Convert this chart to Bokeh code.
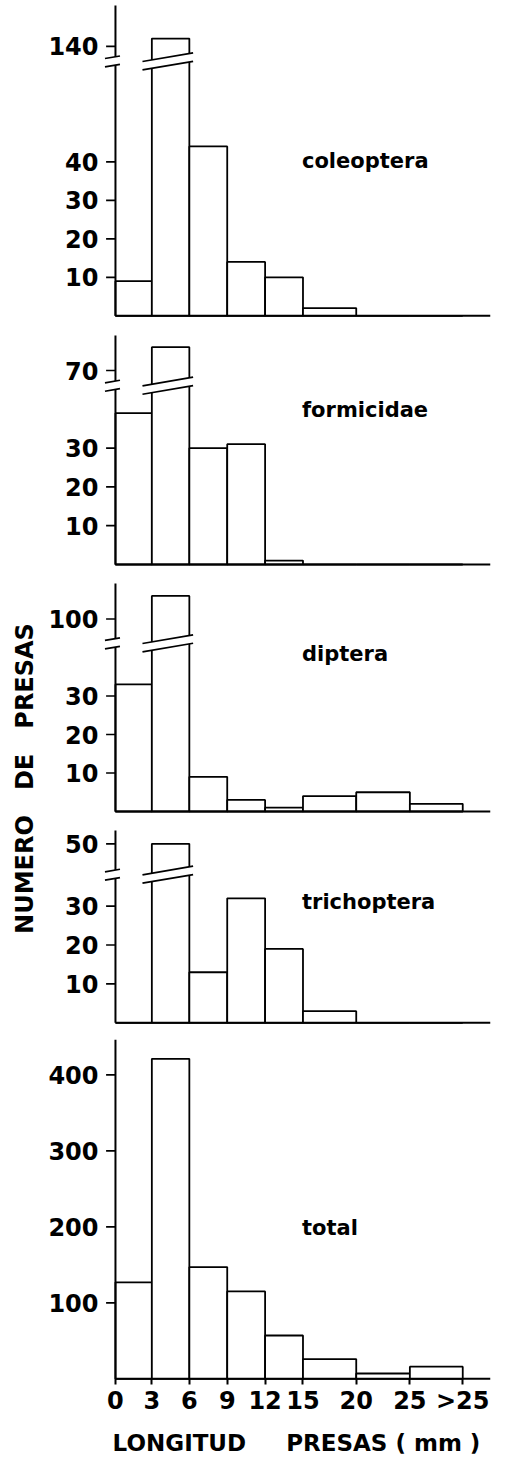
import math
from bokeh.plotting import figure
from bokeh.layouts import column, row
from bokeh.models import FixedTicker
from bokeh.core.properties import value
from bokeh.embed import file_html
from bokeh.resources import INLINE

# ---------------- data ----------------
class_labels = ["0", "3", "6", "9", "12", "15", "20", "25", ">25"]  # class limits (mm)
coleoptera = [9, 142, 44, 14, 10, 2, 0, 0]
formicidae = [39, 76, 30, 31, 1, 0, 0, 0]
diptera = [33, 106, 9, 3, 1, 4, 5, 2]
trichoptera = [0, 50, 13, 32, 19, 3, 0, 0]
total = [127, 421, 147, 115, 57, 26, 7, 16]

coleoptera_ticks = [10, 20, 30, 40]
coleoptera_upper_tick = 140
formicidae_ticks = [10, 20, 30]
formicidae_upper_tick = 70
diptera_ticks = [10, 20, 30]
diptera_upper_tick = 100
trichoptera_ticks = [10, 20, 30]
trichoptera_upper_tick = 50
total_ticks = [100, 200, 300, 400]

y_title = "NUMERO \u00a0 DE \u00a0 PRESAS"
x_title = "LONGITUD \u00a0 \u00a0 PRESAS ( mm )"

# ---------------- layout / style ----------------
FONT = "DejaVu Sans"
PX = 37.6          # page pixels per x unit
AXIS_X = 114       # page x of the y axis line
LABEL_W = 45
PANEL_W = 462
FRAME_L = 101
FRAME_R = 490
# drawn position of every class limit (classes 15-20 and wider are drawn wider)
edge_pos = [0, 0.97, 1.97, 2.98, 3.99, 5.0, 6.42, 7.85, 9.26]
x_start = (FRAME_L - AXIS_X) / PX
x_end = (FRAME_R - AXIS_X) / PX
NAME_X = (301 - AXIS_X) / PX

panels = [
    dict(name="coleoptera", counts=coleoptera, ticks=coleoptera_ticks, upper=coleoptera_upper_tick,
         offset=70, brk=66.2, top=0, frame_top=2, base=315.3, frame_bot=317, bot=322,
         scale=3.85, axis_top=5, name_base=160),
    dict(name="formicidae", counts=formicidae, ticks=formicidae_ticks, upper=formicidae_upper_tick,
         offset=20, brk=46.2, top=322, frame_top=330, base=564, frame_bot=566, bot=570,
         scale=3.88, axis_top=335, name_base=409),
    dict(name="diptera", counts=diptera, ticks=diptera_ticks, upper=diptera_upper_tick,
         offset=50, brk=43.8, top=570, frame_top=578, base=811, frame_bot=813, bot=817,
         scale=3.85, axis_top=583, name_base=653.5),
    dict(name="trichoptera", counts=trichoptera, ticks=trichoptera_ticks, upper=trichoptera_upper_tick,
         offset=4, brk=38.2, top=817, frame_top=825, base=1022.3, frame_bot=1024, bot=1028,
         scale=3.89, axis_top=830, name_base=901.6),
    dict(name="total", counts=total, ticks=total_ticks, upper=None,
         offset=None, brk=None, top=1028, frame_top=1034, base=1378.3, frame_bot=1380, bot=1458,
         scale=0.76, axis_top=1039.3, name_base=1227),
]


def build(cfg, bottom=False):
    s = cfg["scale"]
    base = cfg["base"]
    y0 = -(cfg["frame_bot"] - base) / s
    y1 = (base - cfg["frame_top"]) / s
    p = figure(width=PANEL_W, height=int(cfg["bot"] - cfg["top"]),
               x_range=(x_start, x_end), y_range=(y0, y1),
               output_backend="svg", toolbar_location=None,
               min_border_left=int(FRAME_L - LABEL_W),
               min_border_right=int(LABEL_W + PANEL_W - FRAME_R),
               min_border_top=int(cfg["frame_top"] - cfg["top"]),
               min_border_bottom=int(cfg["bot"] - cfg["frame_bot"]))
    p.outline_line_color = None
    p.xgrid.visible = False
    p.ygrid.visible = False
    p.background_fill_color = "white"
    p.border_fill_color = "white"

    off = cfg["offset"]
    brk = cfg["brk"]

    def disp(v):
        if off is None or v <= brk:
            return v
        return v - off

    tops = [disp(v) for v in cfg["counts"]]
    p.quad(left=edge_pos[:-1], right=edge_pos[1:], bottom=0, top=tops,
           fill_color="white", line_color="black", line_width=1.8)

    axis_top = (base - cfg["axis_top"]) / s
    lw = 2
    if off is not None:
        h = 4.2 / s
        k = 0.17 * PX / s
        # y axis line with a gap
        p.segment(x0=[0, 0], y0=[0, brk + h], x1=[0, 0], y1=[brk - h, axis_top],
                  line_color="black", line_width=lw)
        ax0, ax1 = -0.28, 0.12
        p.segment(x0=[ax0, ax0], y0=[brk - h + k * ax0, brk + h + k * ax0],
                  x1=[ax1, ax1], y1=[brk - h + k * ax1, brk + h + k * ax1],
                  line_color="black", line_width=1.7)
        # broken bar
        i = max(range(len(cfg["counts"])), key=lambda j: cfg["counts"][j])
        e0, e1 = edge_pos[i], edge_pos[i + 1]
        xc = (e0 + e1) / 2
        a, b = e0 - 0.08, e1 + 0.08
        p.patch(x=[a, b, b, a],
                y=[brk - h + k * (a - xc), brk - h + k * (b - xc),
                   brk + h + k * (b - xc), brk + h + k * (a - xc)],
                fill_color="white", line_color=None)
        bx0, bx1 = e0 - 0.25, e1 + 0.1
        p.segment(x0=[bx0, bx0], y0=[brk - h + k * (bx0 - xc), brk + h + k * (bx0 - xc)],
                  x1=[bx1, bx1], y1=[brk - h + k * (bx1 - xc), brk + h + k * (bx1 - xc)],
                  line_color="black", line_width=1.7)
        tick_pos = list(cfg["ticks"]) + [cfg["upper"] - off]
        overrides = {cfg["upper"] - off: str(cfg["upper"])}
    else:
        p.segment(x0=[0], y0=[0], x1=[0], y1=[axis_top], line_color="black", line_width=lw)
        tick_pos = list(cfg["ticks"])
        overrides = {}

    # baseline
    p.segment(x0=[0], y0=[0], x1=[x_end], y1=[0], line_color="black", line_width=lw)
    # y ticks
    p.segment(x0=[-0.25] * len(tick_pos), y0=tick_pos, x1=[0] * len(tick_pos), y1=tick_pos,
              line_color="black", line_width=1.7)

    yax = p.yaxis[0]
    yax.ticker = FixedTicker(ticks=tick_pos, minor_ticks=[])
    yax.major_label_overrides = overrides
    yax.axis_line_color = None
    yax.major_tick_line_color = None
    yax.minor_tick_line_color = None
    yax.major_tick_out = 0
    yax.major_tick_in = 0
    yax.major_label_standoff = 4
    yax.major_label_text_font = FONT
    yax.major_label_text_font_style = "bold"
    yax.major_label_text_font_size = "24px"
    yax.major_label_text_color = "black"

    p.text(x=[NAME_X], y=[(base - cfg["name_base"]) / s], text=[cfg["name"]],
           text_font=value(FONT), text_font_style="bold", text_font_size="21px",
           text_baseline="alphabetic", text_align="left", text_color="black")

    xax = p.xaxis[0]
    if bottom:
        xax.ticker = FixedTicker(ticks=edge_pos, minor_ticks=[])
        xax.major_label_overrides = {edge_pos[j]: class_labels[j] for j in range(len(edge_pos))}
        xax.axis_line_color = None
        xax.major_tick_line_color = "black"
        xax.major_tick_line_width = 2
        xax.minor_tick_line_color = None
        xax.major_tick_in = 2
        xax.major_tick_out = 4
        xax.major_label_standoff = 2
        xax.major_label_text_font = FONT
        xax.major_label_text_font_style = "bold"
        xax.major_label_text_font_size = "24px"
        xax.major_label_text_color = "black"
        xax.axis_label = x_title
        xax.axis_label_text_font = FONT
        xax.axis_label_text_font_style = "bold"
        xax.axis_label_text_font_size = "23px"
        xax.axis_label_text_color = "black"
        xax.axis_label_standoff = 12
    else:
        xax.visible = False
    return p


figs = [build(c, bottom=(k == len(panels) - 1)) for k, c in enumerate(panels)]

lab = figure(width=LABEL_W, height=1458, x_range=(0, LABEL_W), y_range=(0, 1458),
             output_backend="svg", toolbar_location=None, min_border=0,
             x_axis_location=None, y_axis_location=None)
lab.outline_line_color = None
lab.xgrid.visible = False
lab.ygrid.visible = False
lab.text(x=[24], y=[1458 - 778], text=[y_title], angle=math.pi / 2,
         text_font=value(FONT), text_font_style="bold", text_font_size="24px",
         text_align="center", text_baseline="middle", text_color="black")

layout = row(lab, column(*figs, spacing=0), spacing=0)
open("out.html", "w").write(file_html(layout, INLINE))
